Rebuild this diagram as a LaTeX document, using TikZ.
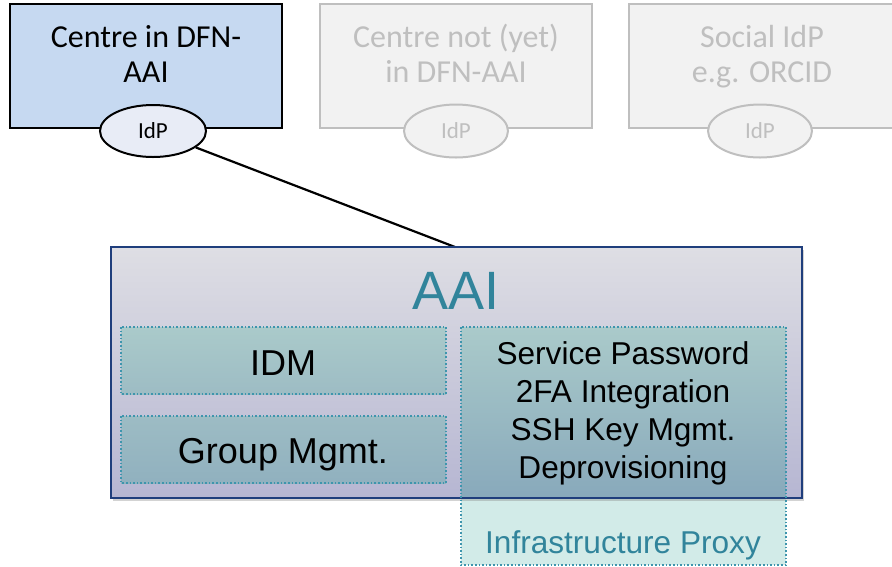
\documentclass[tikz,border=0pt]{standalone}
\usepackage{fontspec}
\setmainfont{Carlito}
\newfontfamily\arialf{Liberation Sans}
\usetikzlibrary{shapes.geometric,shadows}
\definecolor{boxblue}{HTML}{C6D9F1}
\definecolor{ellblue}{HTML}{E8ECF6}
\definecolor{greyfill}{HTML}{F2F2F2}
\definecolor{greyline}{HTML}{BFBFBF}
\definecolor{aaiborder}{HTML}{1F3E7C}
\definecolor{aaitop}{HTML}{DEDEE4}
\definecolor{aaibot}{HTML}{B6B6D2}
\definecolor{tealtxt}{HTML}{31849B}
\definecolor{dotline}{HTML}{3E95AD}
\definecolor{intop}{HTML}{AACACA}
\definecolor{inmid}{HTML}{9DBCC4}
\definecolor{inbot}{HTML}{88A9BB}
\definecolor{proxyfill}{HTML}{D2EBE8}
\tikzset{
  centrebox/.style={draw=black, line width=2.4pt, fill=boxblue},
  greybox/.style={draw=greyline, line width=2.4pt, fill=greyfill},
  topmsg/.style={font=\fontsize{32}{35}\selectfont, align=center, anchor=base, inner sep=0pt},
  idpell/.style={ellipse, draw=black, line width=2pt, fill=ellblue, minimum width=106pt, minimum height=52pt, inner sep=0pt, font=\fontsize{23}{25}\selectfont},
  greyell/.style={ellipse, draw=greyline, line width=2pt, fill=greyfill, minimum width=104pt, minimum height=53pt, inner sep=0pt, text=greyline, font=\fontsize{23}{25}\selectfont},
  dotbox/.style={draw=dotline, line width=1.6pt, dotted},
  arialtxt/.style={font=\arialf\fontsize{31.6}{38}\selectfont, align=center, anchor=base, inner sep=0pt},
  bigtxt/.style={font=\arialf\fontsize{36}{40}\selectfont, anchor=base, inner sep=0pt}
}
\begin{document}
\begin{tikzpicture}[x=1pt,y=-1pt]
\useasboundingbox (0,0) rectangle (892,566);
% top boxes
\draw[centrebox] (10,4) rectangle (282,128);
\node[topmsg] (t1) at (146,82) {Centre in DFN-\\AAI};
\node[idpell] (idp1) at (153,131) {IdP};
\draw[greybox] (320,4) rectangle (592,128);
\node[topmsg, text=greyline] (t2) at (456,82) {Centre not (yet)\\in DFN-AAI};
\node[greyell] (idp2) at (456,131) {IdP};
\draw[greybox] (629,4) rectangle (894,128);
\node[topmsg, text=greyline] (t3) at (762,82) {Social IdP\\e.g. ORCID};
\node[greyell] (idp3) at (760,131) {IdP};
% proxy box (below part)
\fill[proxyfill] (461,327) rectangle (786,565);
% AAI box
\fill[drop shadow={opacity=0.35, shadow xshift=2pt, shadow yshift=-3pt}, top color=aaitop, bottom color=aaibot] (111,247) rectangle (802,498);
\coordinate (aaitop) at (455,247);
\draw[black, line width=2.2pt] (idp1) -- (aaitop);
% inner boxes
\shade[top color=intop, bottom color=inmid] (121,327) rectangle (446,394);
\shade[top color=inmid, bottom color=inbot!60!inmid] (121,416) rectangle (446,483);
\shade[top color=intop, bottom color=inbot] (461,327) rectangle (786,498);
\draw[aaiborder, line width=2pt] (111,247) rectangle (802,498);
\draw[dotbox] (121,327) rectangle (446,394);
\draw[dotbox] (121,416) rectangle (446,483);
\draw[dotbox] (461,327) rectangle (786,565);
\node[font=\arialf\fontsize{54}{60}\selectfont, text=tealtxt, anchor=base, inner sep=0pt] (aai) at (456,309) {AAI};
\node[bigtxt] (idm) at (283,375) {IDM};
\node[bigtxt] (grp) at (283,463) {Group Mgmt.};
\node[arialtxt] (svc) at (623,478) {Service Password\\2FA Integration\\SSH Key Mgmt.\\Deprovisioning};
\node[arialtxt, text=tealtxt] (proxy) at (623,553) {Infrastructure Proxy};
\end{tikzpicture}
\end{document}
